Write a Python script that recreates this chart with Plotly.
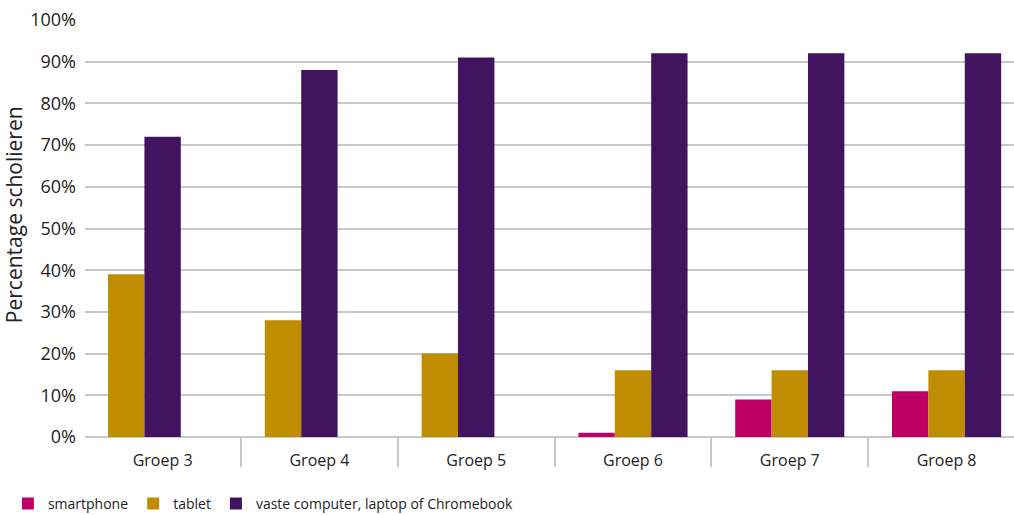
import plotly.graph_objects as go

# Share of pupils per school year that uses each device type
groepen = ["Groep 3", "Groep 4", "Groep 5", "Groep 6", "Groep 7", "Groep 8"]
smartphone = [0, 0, 0, 1, 9, 11]
tablet = [39, 28, 20, 16, 16, 16]
computer = [72, 88, 91, 92, 92, 92]

series_names = ["smartphone", "tablet", "vaste computer, laptop of Chromebook"]
series_values = [smartphone, tablet, computer]
series_colors = ["#BE0066", "#C08C00", "#42145F"]

FONT = "Open Sans"
TEXT_COLOR = "#222222"
GRID_COLOR = "#C8C8C8"

# Bar slot width in category units; three visible slots per group.
SLOT = 0.232


def slot_offsets(series_idx):
    """Left-edge offset of a series' bar inside each group.

    Groups without smartphone users show tablet / computer first,
    followed by an empty slot; the other groups show all three series.
    """
    offsets = []
    for g in range(len(groepen)):
        if smartphone[g] == 0:
            order = series_idx - 1  # smartphone slot is unused
        else:
            order = series_idx
        offsets.append((order - 1.5) * SLOT)
    return offsets


fig = go.Figure()
for i, (name, vals, col) in enumerate(zip(series_names, series_values, series_colors)):
    fig.add_trace(
        go.Bar(
            x=groepen,
            y=vals,
            name=name,
            marker=dict(color=col, line=dict(width=0)),
            width=SLOT,
            offset=slot_offsets(i),
        )
    )

fig.update_layout(
    width=1014,
    height=515,
    barmode="overlay",
    plot_bgcolor="white",
    paper_bgcolor="white",
    margin=dict(l=85, r=0, t=20, b=78, autoexpand=False),
    font=dict(family=FONT, size=15, color=TEXT_COLOR),
    showlegend=True,
    legend=dict(
        orientation="h",
        x=-0.083,
        xanchor="left",
        y=-0.122,
        yanchor="top",
        font=dict(family=FONT, size=14, color=TEXT_COLOR),
        itemwidth=30,
        tracegroupgap=0,
    ),
    xaxis=dict(
        type="category",
        range=[-0.495, 5.43],
        tickson="boundaries",
        ticks="outside",
        ticklen=29,
        tickwidth=2,
        tickcolor=GRID_COLOR,
        showline=False,
        showgrid=False,
        automargin=False,
        ticklabelstandoff=12,
        tickfont=dict(family=FONT, size=16, color=TEXT_COLOR),
        fixedrange=True,
    ),
    yaxis=dict(
        range=[0, 100],
        dtick=10,
        ticksuffix="%",
        showgrid=True,
        gridcolor=GRID_COLOR,
        gridwidth=2,
        zeroline=True,
        zerolinecolor=GRID_COLOR,
        zerolinewidth=2,
        showline=False,
        ticks="",
        automargin=False,
        ticklabelstandoff=8,
        tickfont=dict(family=FONT, size=18, color=TEXT_COLOR),
        fixedrange=True,
    ),
    annotations=[
        dict(
            text="Percentage scholieren",
            textangle=-90,
            xref="paper",
            yref="paper",
            x=0,
            y=0.532,
            xanchor="center",
            yanchor="middle",
            xshift=-71,
            showarrow=False,
            font=dict(family=FONT, size=21, color=TEXT_COLOR),
        )
    ],
)

fig.write_html("out.html")
